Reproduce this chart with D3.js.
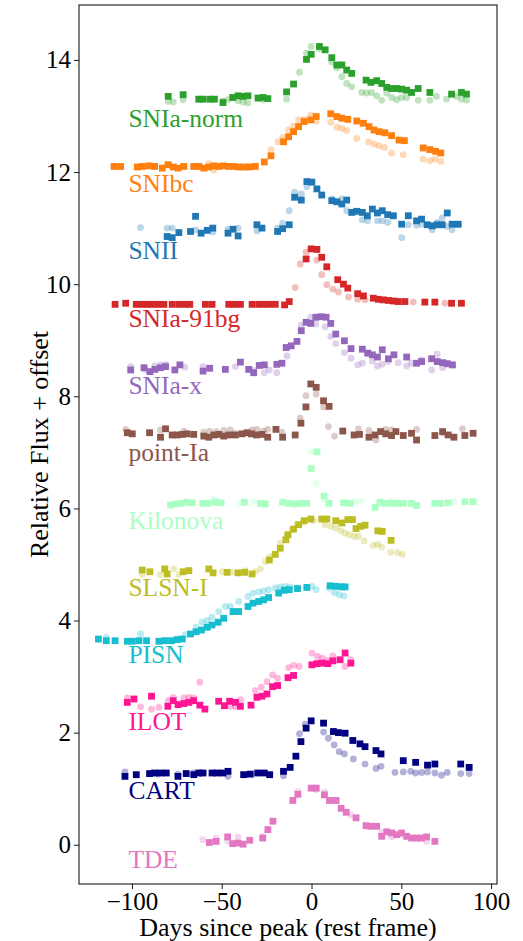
<!DOCTYPE html>
<html><head><meta charset="utf-8">
<script src="https://cdn.jsdelivr.net/npm/d3@7"></script>
<style>body{margin:0;background:#fff}svg{display:block}text{font-family:"Liberation Serif","DejaVu Serif",serif}</style>
</head><body><svg id="c" width="523" height="941"></svg>
<script>
// ---------- data (days since peak, relative flux + offset) ----------
const seriesNames = ["SNIa-norm","SNIbc","SNII","SNIa-91bg","SNIa-x","point-Ia","Kilonova","SLSN-I","PISN","ILOT","CART","TDE"];
const seriesColors = ["#2ca02c","#ff7f0e","#1f77b4","#d62728","#9467bd","#8c564b","#aaffc3","#bcbd22","#17becf","#ff1493","#000080","#e377c2"];
const labelFlux = [12.97,11.8,10.6,9.4,8.2,7.0,5.8,4.6,3.4,2.2,0.98,-0.25];
const xTicks = [-100,-50,0,50,100];
const yTicks = [0,2,4,6,8,10,12,14];

const snIaNormSqDays = [-79.8,-71.5,-62.8,-60.6,-56.7,-54.1,-49.3,-43.9,-40.9,-38.1,-35.4,-29.8,-27.0,-24.3,-13.9,-10.0,-2.8,-0.2,4.4,7.6,11.3,14.1,16.9,19.6,22.4,30.4,33.1,36.3,39.1,41.9,44.6,47.4,50.2,53.0,55.7,59.4,65.9,78.0,83.5,86.3];
const snIaNormSqFlux = [13.35,13.38,13.30,13.30,13.30,13.30,13.24,13.33,13.36,13.35,13.36,13.32,13.33,13.31,13.43,13.57,14.01,14.10,14.24,14.18,14.04,13.91,13.91,13.82,13.76,13.64,13.60,13.63,13.58,13.51,13.49,13.49,13.48,13.46,13.42,13.49,13.42,13.39,13.42,13.39];
const snIaNormCiDays = [-79.8,-77.0,-71.5,-49.3,-46.5,-40.9,-38.1,-35.4,-27.0,-13.9,-6.7,-2.8,-0.2,4.4,11.3,14.1,16.9,19.6,22.4,28.0,30.7,33.5,36.3,39.1,41.9,44.6,47.4,50.2,53.0,59.4,65.9,69.6,75.2,80.7,83.5,86.3];
const snIaNormCiFlux = [13.26,13.25,13.29,13.27,13.29,13.27,13.25,13.23,13.29,13.30,13.78,14.12,14.24,14.20,13.96,13.86,13.70,13.58,13.52,13.42,13.41,13.42,13.36,13.28,13.41,13.33,13.29,13.33,13.33,13.28,13.28,13.35,13.30,13.35,13.30,13.28];

const snIbcSqDays = [-110.0,-106.3,-97.0,-94.3,-90.6,-87.4,-83.1,-79.8,-77.0,-74.3,-71.1,-65.6,-62.8,-60.0,-57.2,-54.4,-51.7,-48.9,-46.1,-43.3,-40.6,-37.4,-34.6,-31.3,-26.3,-22.6,-15.6,-12.8,-10.0,-7.2,-4.1,-0.4,2.6,10.7,14.1,16.9,20.2,25.2,28.9,32.0,34.8,37.6,40.9,44.6,48.7,51.7,62.2,65.9,69.1,72.0];
const snIbcSqFlux = [12.10,12.10,12.09,12.10,12.11,12.10,12.07,12.13,12.09,12.07,12.10,12.10,12.10,12.07,12.09,12.11,12.10,12.11,12.10,12.10,12.09,12.09,12.09,12.10,12.18,12.29,12.54,12.63,12.72,12.81,12.90,12.93,12.99,13.04,12.99,12.96,12.94,12.91,12.87,12.81,12.75,12.72,12.70,12.65,12.57,12.56,12.43,12.40,12.37,12.34];
const snIbcCiDays = [-80.4,-57.2,-54.4,-22.6,-18.7,-16.1,-12.8,-10.0,-7.2,-4.1,-0.4,2.6,10.7,14.1,16.9,19.6,25.2,31.7,34.8,37.6,40.6,44.6,51.1,62.2,65.9,68.7,72.0];
const snIbcCiFlux = [12.14,12.15,12.03,12.40,12.54,12.62,12.75,12.82,12.93,12.94,13.02,12.91,12.89,12.80,12.78,12.74,12.60,12.54,12.50,12.47,12.44,12.34,12.31,12.23,12.20,12.23,12.19];

const snIISqDays = [-80.4,-77.6,-73.9,-67.4,-64.6,-61.5,-58.1,-55.0,-46.5,-43.7,-40.9,-30.4,-27.6,-18.9,-16.1,-12.4,-9.4,-5.7,-2.6,0.2,3.0,5.7,11.3,14.1,16.9,19.6,22.4,25.2,28.3,31.1,33.9,36.7,39.4,42.4,45.6,50.2,53.9,58.5,61.3,64.4,67.2,70.0,72.8,75.6,78.3,81.7];
const snIISqFlux = [10.85,10.83,10.92,10.94,11.21,10.91,10.96,11.00,10.91,10.98,10.86,11.06,11.00,10.94,10.99,11.06,11.55,11.50,11.83,11.82,11.70,11.59,11.49,11.47,11.43,11.50,11.28,11.30,11.28,11.22,11.34,11.27,11.31,11.24,11.22,11.07,11.22,11.13,11.16,11.06,11.04,11.06,11.06,11.27,11.07,11.07];
const snIICiDays = [-95.2,-80.4,-77.6,-64.6,-55.0,-46.5,-40.9,-30.4,-18.9,-16.1,-12.4,-9.4,-5.7,-2.6,11.3,16.9,19.6,28.3,31.1,36.7,39.4,42.4,50.2,53.9,58.5,61.3,67.2,70.0,72.8,75.6,78.3,81.7];
const snIICiFlux = [11.01,11.00,11.00,10.97,10.93,10.98,11.00,10.95,11.00,11.09,11.31,11.64,11.61,11.74,11.52,11.52,11.31,11.15,11.13,11.13,11.13,11.10,10.83,11.06,11.05,11.07,10.97,11.10,11.18,11.03,10.97,11.06];

const sn91bgSqDays = [-109.4,-103.5,-97.6,-94.6,-91.5,-88.7,-85.6,-82.2,-77.6,-73.9,-70.6,-67.8,-59.1,-55.4,-46.1,-42.8,-39.6,-33.1,-29.4,-26.7,-23.9,-20.2,-15.0,-12.4,-3.0,-0.2,3.0,5.7,8.5,14.6,17.8,20.2,25.7,28.9,34.4,37.2,40.0,42.8,45.6,48.3,52.0,63.1,68.7,78.0,83.5];
const sn91bgSqFlux = [9.64,9.66,9.64,9.64,9.64,9.64,9.64,9.64,9.64,9.64,9.64,9.64,9.64,9.64,9.64,9.64,9.64,9.64,9.64,9.64,9.64,9.64,9.63,9.69,10.45,10.63,10.62,10.48,10.31,10.08,10.00,9.93,9.83,9.79,9.75,9.73,9.72,9.71,9.70,9.69,9.69,9.68,9.68,9.66,9.66];
const sn91bgCiDays = [-9.1,-6.3,-3.0,3.0,5.7,8.5,11.9,15.0,20.6,25.7,29.8,56.7,74.3];
const sn91bgCiFlux = [9.94,10.36,10.57,10.43,10.17,9.99,9.91,9.86,9.77,9.73,9.72,9.68,9.66];

const snIaxSqDays = [-100.7,-93.3,-90.0,-87.2,-84.1,-81.3,-76.1,-73.3,-60.4,-56.7,-48.0,-39.6,-35.0,-32.2,-29.1,-26.3,-19.3,-16.5,-14.1,-11.3,-8.1,-5.7,-3.0,-0.4,2.4,5.4,8.1,10.7,13.5,18.3,22.0,28.3,31.3,33.9,36.7,39.4,42.8,45.9,53.0,58.5,61.3,66.9,70.0,73.0,75.7,78.5];
const snIaxSqFlux = [8.47,8.51,8.44,8.48,8.51,8.53,8.47,8.56,8.45,8.50,8.48,8.61,8.48,8.42,8.55,8.56,8.57,8.59,8.87,8.90,8.98,9.17,9.32,9.30,9.41,9.42,9.41,9.30,9.11,8.99,8.85,8.84,8.77,8.74,8.70,8.83,8.67,8.74,8.70,8.59,8.62,8.67,8.62,8.60,8.58,8.56];
const snIaxCiDays = [-100.7,-92.4,-87.2,-84.1,-81.3,-70.6,-60.4,-42.4,-32.2,-26.3,-23.5,-19.3,-13.7,-5.7,-0.4,2.4,7.6,10.7,13.5,18.3,22.0,25.7,28.3,33.9,36.7,39.4,42.8,48.3,53.0,55.7,61.3,66.9,70.0,73.0,75.7];
const snIaxCiFlux = [8.53,8.47,8.54,8.56,8.57,8.52,8.53,8.53,8.46,8.42,8.47,8.42,8.72,9.27,9.41,9.29,9.24,9.07,8.94,8.78,8.68,8.56,8.59,8.63,8.54,8.57,8.62,8.60,8.54,8.59,8.65,8.47,8.75,8.51,8.59];

const pointIaSqDays = [-102.6,-99.8,-90.2,-84.1,-81.3,-77.6,-74.8,-72.0,-69.3,-65.6,-60.0,-57.2,-54.4,-51.7,-48.9,-46.1,-42.4,-38.7,-35.9,-33.5,-30.7,-27.6,-24.4,-19.8,-16.1,-9.1,-5.9,-3.1,-0.4,2.6,6.7,9.8,17.4,23.7,26.7,32.0,35.4,38.5,41.3,44.6,47.0,51.1,55.7,58.5,68.7,73.0,76.1,79.3,85.4,90.0];
const pointIaSqFlux = [7.35,7.33,7.35,7.27,7.42,7.31,7.31,7.32,7.33,7.32,7.29,7.27,7.31,7.32,7.29,7.31,7.31,7.33,7.35,7.33,7.31,7.32,7.27,7.41,7.27,7.31,7.52,7.81,8.22,8.16,7.92,7.82,7.38,7.31,7.32,7.27,7.31,7.37,7.33,7.30,7.37,7.30,7.34,7.22,7.30,7.37,7.31,7.27,7.30,7.34];
const pointIaCiDays = [-103.5,-84.1,-71.1,-60.0,-56.7,-53.0,-48.9,-45.2,-42.4,-33.1,-30.4,-26.7,-24.3,-16.5,-6.3,-3.1,2.6,6.7,9.4,12.8,26.1,32.0,35.9,41.3,44.6,58.5,73.3,84.1];
const pointIaCiFlux = [7.41,7.40,7.38,7.36,7.38,7.37,7.39,7.40,7.34,7.40,7.41,7.38,7.41,7.36,7.61,8.01,8.04,7.81,7.46,7.29,7.42,7.39,7.22,7.41,7.40,7.41,7.34,7.42];

const kilonovaSqDays = [-78.5,-75.7,-73.0,-69.8,-66.5,-60.6,-57.6,-53.5,-50.4,-37.4,-28.5,-25.7,-16.1,-12.8,-9.1,-5.7,-2.6,3.0,-0.2,7.0,9.8,17.8,21.5,35.4,38.1,40.9,44.6,47.8,51.1,55.7,58.5,68.7,71.9,76.1,85.4,90.0];
const kilonovaSqFlux = [6.06,6.08,6.09,6.11,6.10,6.09,6.09,6.11,6.10,6.11,6.09,6.08,6.11,6.09,6.08,6.09,6.09,7.01,6.71,6.22,6.09,6.10,6.09,6.02,6.11,6.09,6.09,6.09,6.09,6.09,6.05,6.09,6.09,6.10,6.12,6.12];
const kilonovaCiDays = [-0.4,2.6,7.0,-54.4,-40.0,-32.2,24.3,27.6,43.7,47.4,79.3];
const kilonovaCiFlux = [7.01,6.45,6.15,6.17,6.09,6.12,6.12,6.13,6.13,6.13,6.12];

const slsnSqDays = [-94.3,-90.0,-81.7,-80.4,-71.5,-68.3,-57.2,-54.8,-47.0,-40.9,-37.2,-33.1,-23.5,-20.2,-17.4,-14.3,-13.1,-10.0,-7.2,-4.1,-0.4,5.7,8.5,13.5,16.9,20.2,22.8,24.8,27.4,29.8,36.9,39.4,44.3];
const slsnSqFlux = [4.90,4.87,4.92,4.83,4.87,4.89,4.92,4.85,4.86,4.85,4.86,4.83,5.08,5.18,5.29,5.44,5.53,5.63,5.71,5.78,5.81,5.81,5.81,5.78,5.74,5.80,5.80,5.64,5.68,5.70,5.60,5.59,5.43];
const slsnCiDays = [-94.3,-84.4,-76.7,-73.9,-49.8,-44.3,-36.9,-31.3,-28.5,-25.7,-23.0,-17.4,-13.7,-10.9,-8.1,-4.8,1.1,7.6,10.7,13.5,16.3,18.7,21.1,23.7,26.1,29.3,34.4,36.9,39.1,44.1,48.0,50.6];
const slsnCiFlux = [4.82,4.82,4.92,4.82,4.87,4.86,4.89,4.87,4.92,5.05,5.14,5.38,5.53,5.62,5.71,5.75,5.78,5.71,5.68,5.65,5.60,5.56,5.53,5.50,5.50,5.42,5.34,5.36,5.31,5.22,5.21,5.18];

const pisnSqDays = [-118.7,-114.3,-109.4,-102.6,-99.8,-96.1,-91.9,-85.0,-81.7,-78.0,-74.8,-72.0,-67.4,-64.3,-61.3,-58.1,-55.4,-52.0,-48.9,-43.7,-40.6,-35.4,-32.6,-29.4,-26.7,-23.9,-18.3,-15.2,-12.4,-7.8,-2.6,10.4,13.5,16.9,18.7];
const pisnSqFlux = [3.67,3.64,3.64,3.63,3.63,3.64,3.64,3.63,3.64,3.64,3.66,3.67,3.76,3.80,3.83,3.88,3.92,3.97,4.04,4.16,4.16,4.25,4.31,4.34,4.37,4.41,4.49,4.54,4.55,4.57,4.59,4.62,4.61,4.60,4.60];
const pisnCiDays = [-114.3,-95.2,-70.2,-64.3,-61.0,-58.1,-55.4,-51.7,-48.0,-45.2,-40.6,-35.4,-32.6,-29.4,-26.7,-23.9,-20.2,-17.4,-14.6,-11.9,-8.1,0.2,2.6,9.8,12.8,15.4,18.1];
const pisnCiFlux = [3.70,3.76,3.75,3.88,3.97,4.00,4.06,4.16,4.25,4.25,4.34,4.43,4.49,4.51,4.53,4.55,4.58,4.60,4.61,4.60,4.58,4.61,4.55,4.58,4.50,4.46,4.44];

const ilotSqDays = [-102.6,-98.9,-89.1,-80.0,-77.0,-74.3,-71.1,-68.3,-65.6,-62.2,-59.4,-51.7,-48.5,-45.6,-42.4,-39.6,-33.7,-30.4,-27.6,-24.8,-21.7,-18.9,-13.1,-10.0,0.2,3.0,5.7,9.1,11.9,15.9,18.7,21.9];
const ilotSqFlux = [2.54,2.60,2.65,2.47,2.57,2.50,2.52,2.54,2.57,2.49,2.42,2.56,2.48,2.56,2.54,2.47,2.49,2.63,2.65,2.69,2.82,2.84,2.98,3.02,3.21,3.23,3.24,3.23,3.28,3.30,3.42,3.24];
const ilotCiDays = [-102.6,-95.2,-89.1,-85.0,-79.8,-77.0,-71.1,-68.3,-65.6,-62.2,-45.2,-42.4,-39.6,-31.3,-28.0,-24.8,-21.7,-18.9,-12.8,-10.0,-6.9,0.2,3.3,6.1,9.1,11.9,18.7,21.9];
const ilotCiFlux = [2.62,2.46,2.42,2.45,2.57,2.63,2.62,2.63,2.62,2.90,2.47,2.46,2.59,2.75,2.81,2.91,3.03,2.97,3.16,3.20,3.18,3.42,3.36,3.33,3.29,3.37,3.18,3.30];

const cartSqDays = [-103.9,-97.6,-90.2,-87.4,-84.1,-80.9,-74.4,-69.8,-65.6,-62.8,-60.4,-55.4,-52.6,-49.3,-46.5,-37.8,-34.1,-30.0,-26.3,-23.3,-15.6,-11.9,-8.7,-5.9,-3.0,-0.2,6.7,12.2,15.0,18.7,23.0,27.0,29.8,35.9,38.7,51.1,58.0,64.6,68.7,83.1,87.8];
const cartSqFlux = [1.22,1.25,1.27,1.28,1.28,1.28,1.22,1.27,1.25,1.28,1.28,1.28,1.28,1.28,1.31,1.25,1.26,1.28,1.28,1.25,1.31,1.38,1.58,1.84,2.08,2.21,2.17,2.02,2.00,1.99,1.86,1.80,1.75,1.68,1.62,1.50,1.47,1.42,1.44,1.44,1.38];
const cartCiDays = [-103.9,-85.6,-74.4,-65.6,-46.5,-15.6,-6.7,-3.5,6.7,9.4,12.6,15.4,18.3,23.3,29.8,35.9,38.7,46.5,51.1,55.2,58.0,61.3,64.6,68.7,72.4,75.6,83.1,87.8];
const cartCiFlux = [1.30,1.26,1.26,1.28,1.22,1.23,1.98,2.15,2.01,1.90,1.78,1.66,1.62,1.53,1.44,1.36,1.40,1.29,1.30,1.31,1.28,1.29,1.30,1.28,1.24,1.29,1.27,1.27];

const tdeSqDays = [-56.9,-53.1,-46.7,-43.9,-40.9,-38.1,-34.4,-27.2,-24.3,-21.5,-10.4,-7.6,-0.2,2.6,7.2,10.0,13.7,16.5,19.3,24.8,30.4,33.1,36.3,39.1,41.9,44.6,47.4,50.2,53.0,55.7,58.5,61.3,64.1,68.7];
const tdeSqFlux = [0.04,0.06,0.14,0.02,0.03,0.01,0.08,0.12,0.27,0.42,0.79,0.90,1.01,1.01,0.89,0.79,0.79,0.65,0.58,0.48,0.34,0.33,0.33,0.15,0.23,0.21,0.18,0.21,0.15,0.12,0.12,0.12,0.14,0.06];
const tdeCiDays = [-60.6,-53.1,-46.7,-40.9,-27.0,-7.6,2.6,7.2,22.0,39.1,44.6,50.2,64.1];
const tdeCiFlux = [0.09,0.12,0.07,0.14,0.15,0.95,0.98,0.94,0.53,0.22,0.14,0.18,0.06];

const sqDays = [snIaNormSqDays,snIbcSqDays,snIISqDays,sn91bgSqDays,snIaxSqDays,pointIaSqDays,kilonovaSqDays,slsnSqDays,pisnSqDays,ilotSqDays,cartSqDays,tdeSqDays];
const sqFlux = [snIaNormSqFlux,snIbcSqFlux,snIISqFlux,sn91bgSqFlux,snIaxSqFlux,pointIaSqFlux,kilonovaSqFlux,slsnSqFlux,pisnSqFlux,ilotSqFlux,cartSqFlux,tdeSqFlux];
const ciDays = [snIaNormCiDays,snIbcCiDays,snIICiDays,sn91bgCiDays,snIaxCiDays,pointIaCiDays,kilonovaCiDays,slsnCiDays,pisnCiDays,ilotCiDays,cartCiDays,tdeCiDays];
const ciFlux = [snIaNormCiFlux,snIbcCiFlux,snIICiFlux,sn91bgCiFlux,snIaxCiFlux,pointIaCiFlux,kilonovaCiFlux,slsnCiFlux,pisnCiFlux,ilotCiFlux,cartCiFlux,tdeCiFlux];

// ---------- drawing ----------
const svg = d3.select("#c");
const L=79, R=497, T=5, B=884;
const x = d3.scaleLinear().domain([-129.5,103.3]).range([L,R]);
const y = d3.scaleLinear().domain([-0.70,14.98]).range([B,T]);

const fmt = d => (d<0 ? "\u2212"+Math.abs(d) : String(d));

const xAxis = svg.append("g").attr("transform",`translate(0,${B})`)
  .call(d3.axisBottom(x).tickValues(xTicks).tickFormat(fmt).tickSize(5).tickPadding(3));
const yAxis = svg.append("g").attr("transform",`translate(${L},0)`)
  .call(d3.axisLeft(y).tickValues(yTicks).tickFormat(fmt).tickSize(5).tickPadding(3));
[xAxis,yAxis].forEach(a=>{
  a.select(".domain").remove();
  a.selectAll("line").attr("stroke","#000").attr("stroke-width",0.9);
  a.selectAll("text").attr("font-size",25).attr("fill","#000")
   .style("font-family",'"Liberation Serif","DejaVu Serif",serif');
});

const plot = svg.append("g");
seriesNames.forEach((name,i)=>{
  const col = seriesColors[i];
  const ci = ciDays[i].map((d,k)=>({d, f:ciFlux[i][k]}));
  const sq = sqDays[i].map((d,k)=>({d, f:sqFlux[i][k]}));
  plot.append("g").selectAll("circle").data(ci).join("circle")
    .attr("cx",p=>x(p.d)).attr("cy",p=>y(p.f)).attr("r",3.4)
    .attr("fill",col).attr("fill-opacity",0.3);
  plot.append("g").selectAll("rect").data(sq).join("rect")
    .attr("x",p=>x(p.d)-3.4).attr("y",p=>y(p.f)-3.4).attr("width",6.8).attr("height",6.8)
    .attr("fill",col);
  svg.append("text").attr("x",x(-102)).attr("y",y(labelFlux[i])).attr("dy","0.35em")
    .attr("font-size",25.5).attr("fill",col).text(name);
});

svg.append("rect").attr("x",L).attr("y",T).attr("width",R-L).attr("height",B-T)
  .attr("fill","none").attr("stroke","#000").attr("stroke-width",1);

svg.append("text").attr("x",(L+R)/2 - 0).attr("y",936).attr("text-anchor","middle")
  .attr("font-size",26).text("Days since peak (rest frame)");
svg.append("text").attr("transform",`translate(48,${(T+B)/2}) rotate(-90)`)
  .attr("text-anchor","middle").attr("font-size",26).text("Relative Flux + offset");
</script></body></html>
